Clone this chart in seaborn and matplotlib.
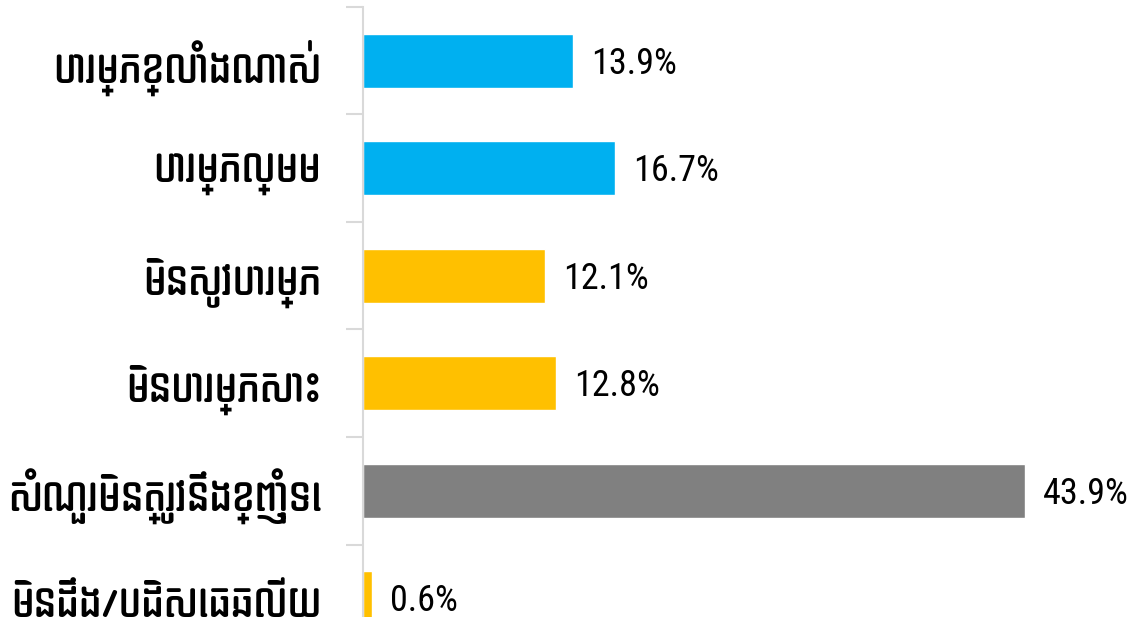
import os

import matplotlib
matplotlib.use("Agg")
import matplotlib.pyplot as plt
from matplotlib import font_manager
from matplotlib.ft2font import FT2Font
from matplotlib.ticker import FixedLocator
import seaborn as sns
import pandas as pd

categories = ["បារម្ភខ្លាំងណាស់", "បារម្ភល្មម", "មិនសូវបារម្ភ", "មិនបារម្ភសោះ",
              "សំណួរមិនត្រូវនឹងខ្ញុំទេ", "មិនដឹង/បដិសេធឆ្លើយ"]
values = [13.9, 16.7, 12.1, 12.8, 43.9, 0.6]
value_labels = ["13.9%", "16.7%", "12.1%", "12.8%", "43.9%", "0.6%"]
bar_colors = ["#00B0F0", "#00B0F0", "#FFC000", "#FFC000", "#808080", "#FFC000"]


def text_width(path, s, size):
    f = FT2Font(path)
    f.set_size(size, 100)
    f.set_text(s)
    return f.get_width_height()[0] / 64.0


def font_rank(path):
    # lower is better: plain regular sans first, bold / condensed / serif last
    name = os.path.basename(path).lower()
    rank = 0
    for bad in ["bold", "black", "condensed", "light", "thin", "medium", "semi", "extra", "italic"]:
        if bad in name:
            rank += 2
    if "serif" in name:
        rank += 1
    if "regular" not in name:
        rank += 1
    return rank


def find_khmer_font(sample):
    found = []
    for path in font_manager.findSystemFonts():
        try:
            cmap = FT2Font(path).get_charmap()
        except Exception:
            continue
        if all(ord(c) in cmap for c in sample if c != "/"):
            found.append((font_rank(path), text_width(path, sample, 24), path))
    if not found:
        return None
    found.sort()
    return found[0]


def find_narrow_font():
    for name in ["Liberation Sans Narrow", "Arial Narrow", "Roboto Condensed", "Open Sans Condensed"]:
        try:
            font_manager.findfont(name, fallback_to_default=False)
            return name
        except Exception:
            pass
    return None


sns.set_theme(style="white")
longest = max(categories, key=len)
khmer = find_khmer_font(longest)
label_size = 24
families = ["DejaVu Sans"]
if khmer:
    font_manager.fontManager.addfont(khmer[2])
    kname = font_manager.FontProperties(fname=khmer[2]).get_name()
    families = [kname, "DejaVu Sans"]
    # the longest label is about 314 px wide in the picture
    label_size = min(30, 24 * 314 / khmer[1])
plt.rcParams["font.family"] = families

narrow = find_narrow_font()
if narrow:
    num_family, num_size = narrow, 26
else:
    num_family, num_size = "Liberation Sans", 22

df = pd.DataFrame({"category": categories, "value": values})

fig = plt.figure(figsize=(11.32, 6.17), dpi=100)
# axes runs past the bottom edge, the reference picture is cropped there
ax = fig.add_axes([363 / 1132, 1 - 652 / 617, (1117 - 363) / 1132, 645 / 617])

sns.barplot(data=df, x="value", y="category", hue="category", palette=bar_colors,
            legend=False, width=0.5, orient="h", ax=ax, saturation=1)

ax.set_xlim(0, 50)
ax.set_ylim(5.5, -0.5)
ax.set_xlabel("")
ax.set_ylabel("")
ax.set_xticks([])

for side in ["top", "right", "bottom"]:
    ax.spines[side].set_visible(False)
ax.spines["left"].set_color("#D9D9D9")
ax.spines["left"].set_linewidth(1.5)

ax.yaxis.set_minor_locator(FixedLocator([i - 0.5 for i in range(len(categories) + 1)]))
ax.tick_params(axis="y", which="major", length=0, pad=30, labelsize=label_size, labelcolor="black")
ax.tick_params(axis="y", which="minor", length=12, width=1.5, color="#D9D9D9", left=True)

for i, v in enumerate(values):
    ax.text(v + 1.2, i + 0.03, value_labels[i], va="center", ha="left",
            fontsize=num_size, family=[num_family, "DejaVu Sans"], color="black")

fig.savefig("out.png", dpi=100)
